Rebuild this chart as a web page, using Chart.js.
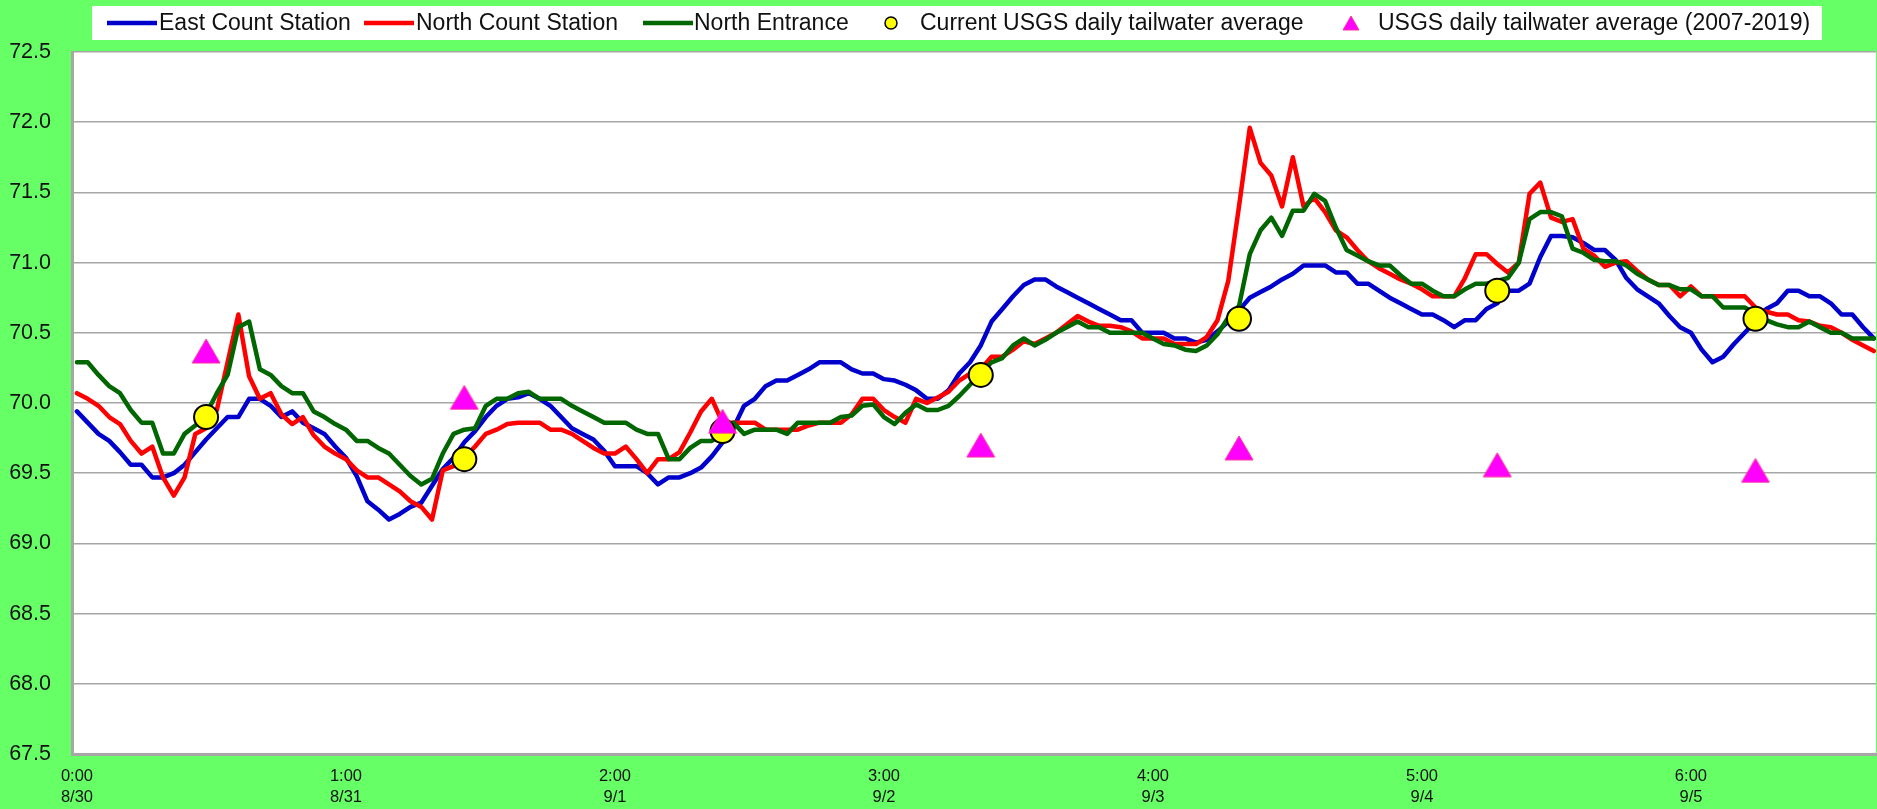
<!DOCTYPE html>
<html lang="en">
<head>
<meta charset="UTF-8">
<title>Tailwater temperature</title>
<script src="https://cdn.jsdelivr.net/npm/chart.js"></script>
<style>
  html, body { margin: 0; padding: 0; background: #66ff66; overflow: hidden; }
  canvas { display: block; }
</style>
</head>
<body>
<canvas id="tempChart" width="1877" height="809"></canvas>
<script>
// hourly readings, 8/30 0:00 .. 9/5 23:00 (168 points)
const eastCount = [
  69.94, 69.86, 69.78, 69.73, 69.65, 69.56, 69.56, 69.47, 69.47, 69.50, 69.56, 69.65,
  69.74, 69.82, 69.90, 69.90, 70.03, 70.03, 69.98, 69.90, 69.94, 69.86, 69.82, 69.78,
  69.69, 69.61, 69.48, 69.30, 69.24, 69.17, 69.21, 69.26, 69.29, 69.41, 69.53, 69.61,
  69.72, 69.80, 69.90, 69.98, 70.03, 70.04, 70.07, 70.03, 69.98, 69.90, 69.82, 69.78,
  69.74, 69.66, 69.55, 69.55, 69.55, 69.50, 69.42, 69.47, 69.47, 69.50, 69.54, 69.62,
  69.72, 69.82, 69.98, 70.03, 70.12, 70.16, 70.16, 70.20, 70.24, 70.29, 70.29, 70.29,
  70.24, 70.21, 70.21, 70.17, 70.16, 70.13, 70.09, 70.03, 70.03, 70.09, 70.21, 70.29,
  70.41, 70.58, 70.67, 70.76, 70.84, 70.88, 70.88, 70.83, 70.79, 70.75, 70.71, 70.67,
  70.63, 70.59, 70.59, 70.50, 70.50, 70.50, 70.46, 70.46, 70.43, 70.45, 70.51, 70.58,
  70.66, 70.75, 70.79, 70.83, 70.88, 70.92, 70.98, 70.98, 70.98, 70.93, 70.93, 70.85,
  70.85, 70.80, 70.75, 70.71, 70.67, 70.63, 70.63, 70.59, 70.54, 70.59, 70.59, 70.67,
  70.71, 70.80, 70.80, 70.85, 71.04, 71.19, 71.19, 71.18, 71.14, 71.09, 71.09, 71.02,
  70.89, 70.81, 70.76, 70.71, 70.62, 70.54, 70.50, 70.38, 70.29, 70.33, 70.42, 70.50,
  70.58, 70.67, 70.71, 70.80, 70.80, 70.76, 70.76, 70.71, 70.63, 70.63, 70.54, 70.46
];
const northCount = [
  70.07, 70.03, 69.98, 69.90, 69.85, 69.73, 69.64, 69.69, 69.47, 69.34, 69.47, 69.78,
  69.82, 69.95, 70.29, 70.63, 70.19, 70.03, 70.07, 69.92, 69.85, 69.90, 69.77, 69.69,
  69.64, 69.60, 69.52, 69.47, 69.47, 69.42, 69.37, 69.30, 69.26, 69.17, 69.52, 69.55,
  69.61, 69.69, 69.78, 69.81, 69.85, 69.86, 69.86, 69.86, 69.81, 69.81, 69.78, 69.73,
  69.68, 69.64, 69.64, 69.69, 69.60, 69.50, 69.60, 69.60, 69.65, 69.79, 69.94, 70.03,
  69.86, 69.86, 69.86, 69.86, 69.81, 69.81, 69.81, 69.81, 69.84, 69.86, 69.86, 69.86,
  69.92, 70.03, 70.03, 69.95, 69.90, 69.86, 70.03, 70.00, 70.04, 70.08, 70.16, 70.21,
  70.24, 70.33, 70.33, 70.38, 70.44, 70.42, 70.46, 70.50, 70.56, 70.62, 70.58, 70.55,
  70.55, 70.54, 70.51, 70.46, 70.46, 70.46, 70.42, 70.42, 70.42, 70.47, 70.59, 70.87,
  71.40, 71.96, 71.71, 71.62, 71.40, 71.75, 71.40, 71.46, 71.36, 71.23, 71.18, 71.09,
  71.01, 70.96, 70.92, 70.88, 70.85, 70.81, 70.76, 70.76, 70.76, 70.89, 71.06, 71.06,
  70.99, 70.93, 71.00, 71.49, 71.57, 71.32, 71.29, 71.31, 71.10, 71.05, 70.97, 71.00,
  71.01, 70.94, 70.88, 70.84, 70.84, 70.76, 70.83, 70.76, 70.76, 70.76, 70.76, 70.76,
  70.68, 70.65, 70.63, 70.63, 70.59, 70.58, 70.55, 70.54, 70.50, 70.45, 70.41, 70.37
];
const northEntrance = [
  70.29, 70.29, 70.20, 70.12, 70.07, 69.95, 69.86, 69.86, 69.64, 69.64, 69.78, 69.84,
  69.92, 70.07, 70.20, 70.54, 70.58, 70.24, 70.20, 70.12, 70.07, 70.07, 69.94, 69.90,
  69.85, 69.81, 69.73, 69.73, 69.68, 69.64, 69.56, 69.48, 69.42, 69.46, 69.64, 69.78,
  69.81, 69.82, 69.98, 70.03, 70.03, 70.07, 70.08, 70.03, 70.03, 70.03, 69.98, 69.94,
  69.90, 69.86, 69.86, 69.86, 69.81, 69.78, 69.78, 69.60, 69.60, 69.68, 69.73, 69.73,
  69.78, 69.86, 69.78, 69.81, 69.81, 69.81, 69.78, 69.86, 69.86, 69.86, 69.86, 69.90,
  69.91, 69.98, 69.99, 69.90, 69.85, 69.93, 69.99, 69.95, 69.95, 69.98, 70.05, 70.13,
  70.21, 70.29, 70.32, 70.41, 70.46, 70.41, 70.45, 70.50, 70.54, 70.58, 70.54, 70.54,
  70.50, 70.50, 70.50, 70.50, 70.46, 70.42, 70.41, 70.38, 70.37, 70.41, 70.49, 70.61,
  70.69, 71.06, 71.23, 71.32, 71.19, 71.37, 71.37, 71.49, 71.44, 71.25, 71.09, 71.05,
  71.01, 70.98, 70.98, 70.91, 70.85, 70.85, 70.80, 70.76, 70.76, 70.81, 70.85, 70.85,
  70.87, 70.89, 71.00, 71.31, 71.36, 71.36, 71.33, 71.10, 71.07, 71.02, 71.01, 71.01,
  70.98, 70.92, 70.88, 70.84, 70.84, 70.81, 70.81, 70.76, 70.76, 70.68, 70.68, 70.68,
  70.64, 70.59, 70.56, 70.54, 70.54, 70.58, 70.54, 70.50, 70.50, 70.46, 70.46, 70.46
];

// daily USGS values, plotted at noon of each day
const markerHours = [12, 36, 60, 84, 108, 132, 156];
const usgsCurrent = [69.9, 69.6, 69.8, 70.2, 70.6, 70.8, 70.6];
const usgsHistoric = [70.37, 70.04, 69.87, 69.70, 69.68, 69.56, 69.52];

// x labels sit on every 25th point
const tickHours = [0, 25, 50, 75, 100, 125, 150];
const tickTimes = ['0:00', '1:00', '2:00', '3:00', '4:00', '5:00', '6:00'];
const tickDates = ['8/30', '8/31', '9/1', '9/2', '9/3', '9/4', '9/5'];

const FONT = "'Liberation Sans', Arial, sans-serif";
const toPoints = arr => arr.map((v, i) => ({ x: i, y: v }));

// triangle marker drawn on a small canvas so it is centred on its box
function makeTriangle(w, h) {
    const c = document.createElement('canvas');
    c.width = w + 2; c.height = h + 2;
    const g = c.getContext('2d');
    g.beginPath();
    g.moveTo(c.width / 2, 1);
    g.lineTo(c.width - 1, c.height - 1);
    g.lineTo(1, c.height - 1);
    g.closePath();
    g.fillStyle = '#ff00ff';
    g.fill();
    g.strokeStyle = '#ff3399';
    g.lineWidth = 1;
    g.stroke();
    return c;
}
const bigTriangle = makeTriangle(28, 24);
const smallTriangle = makeTriangle(16, 14);

// background, white plot area
const backdrop = {
    id: 'backdrop',
    beforeDraw(chart) {
        const { ctx, chartArea: a } = chart;
        ctx.save();
        ctx.fillStyle = '#66ff66';
        ctx.fillRect(0, 0, chart.width, chart.height);
        ctx.fillStyle = '#ffffff';
        ctx.fillRect(a.left, a.top, a.right - a.left, a.bottom - a.top);
        ctx.restore();
    }
};

// legend strip across the top (marker x, text x)
const legendSlots = [[107, 159], [364, 416], [643, 694], [891, 920], [1351, 1378]];
const legendStrip = {
    id: 'legendStrip',
    afterDraw(chart) {
        const ctx = chart.ctx;
        const y = 23;
        ctx.save();
        ctx.fillStyle = '#ffffff';
        ctx.fillRect(92, 6, 1730, 34);
        ctx.font = '23px ' + FONT;
        ctx.textBaseline = 'middle';
        ctx.textAlign = 'left';
        chart.data.datasets.forEach((ds, i) => {
            const [mx, tx] = legendSlots[i];
            if (ds.showLine !== false) {
                ctx.strokeStyle = ds.borderColor;
                ctx.lineWidth = 4.5;
                ctx.beginPath();
                ctx.moveTo(mx, y);
                ctx.lineTo(mx + 50, y);
                ctx.stroke();
            } else if (ds.pointStyle === 'circle') {
                ctx.beginPath();
                ctx.arc(mx, y, 6, 0, Math.PI * 2);
                ctx.fillStyle = ds.backgroundColor;
                ctx.fill();
                ctx.strokeStyle = ds.borderColor;
                ctx.lineWidth = 1.5;
                ctx.stroke();
            } else {
                ctx.drawImage(smallTriangle, mx - smallTriangle.width / 2, y - smallTriangle.height / 2);
            }
            ctx.fillStyle = '#111';
            ctx.fillText(ds.label, tx, y + 1);
        });
        ctx.restore();
    }
};

const lineSet = (label, data, color, order) => ({
    label, data: toPoints(data), borderColor: color, backgroundColor: color,
    borderWidth: 4.5, pointRadius: 0, tension: 0, order,
    borderJoinStyle: 'round', borderCapStyle: 'round'
});

new Chart(document.getElementById('tempChart'), {
    type: 'line',
    data: {
        datasets: [
            lineSet('East Count Station', eastCount, '#0000cc', 5),
            lineSet('North Count Station', northCount, '#ff0000', 4),
            lineSet('North Entrance', northEntrance, '#006600', 3),
            {
                label: 'Current USGS daily tailwater average',
                data: markerHours.map((h, i) => ({ x: h, y: usgsCurrent[i] })),
                showLine: false, pointStyle: 'circle', pointRadius: 12,
                backgroundColor: '#ffff00', borderColor: '#000000', borderWidth: 2, order: 2
            },
            {
                label: 'USGS daily tailwater average (2007-2019)',
                data: markerHours.map((h, i) => ({ x: h, y: usgsHistoric[i] })),
                showLine: false, pointStyle: bigTriangle, pointRadius: 14,
                backgroundColor: '#ff00ff', borderColor: '#ff3399', order: 1
            }
        ]
    },
    options: {
        responsive: false,
        animation: false,
        devicePixelRatio: 1,
        layout: { autoPadding: false, padding: { top: 52, right: 1, bottom: 0, left: 0 } },
        plugins: { legend: { display: false }, tooltip: { enabled: false } },
        scales: {
            x: {
                type: 'linear',
                min: -0.46,
                max: 167.2,
                afterBuildTicks: scale => { scale.ticks = tickHours.map(v => ({ value: v })); },
                afterFit: scale => {
                    scale.height = 55;
                    scale.paddingLeft = 0;
                    scale.paddingRight = 0;
                },
                grid: { display: false, drawTicks: false },
                border: { display: true, color: '#a6a6a6', width: 3 },
                ticks: {
                    autoSkip: false, maxRotation: 0, padding: 11, color: '#111',
                    font: { family: FONT, size: 16.5, lineHeight: 1.33 },
                    callback: value => {
                        const k = tickHours.indexOf(value);
                        return k < 0 ? '' : [tickTimes[k], tickDates[k]];
                    }
                }
            },
            y: {
                min: 67.5,
                max: 72.5,
                afterFit: scale => { scale.width = 72; },
                grid: { color: '#a6a6a6', lineWidth: 1.5, drawTicks: false },
                border: { display: true, color: '#a6a6a6', width: 3 },
                ticks: {
                    stepSize: 0.5, padding: 21, color: '#111',
                    font: { family: FONT, size: 21.5 },
                    callback: v => v.toFixed(1)
                }
            }
        }
    },
    plugins: [backdrop, legendStrip]
});
</script>
</body>
</html>
